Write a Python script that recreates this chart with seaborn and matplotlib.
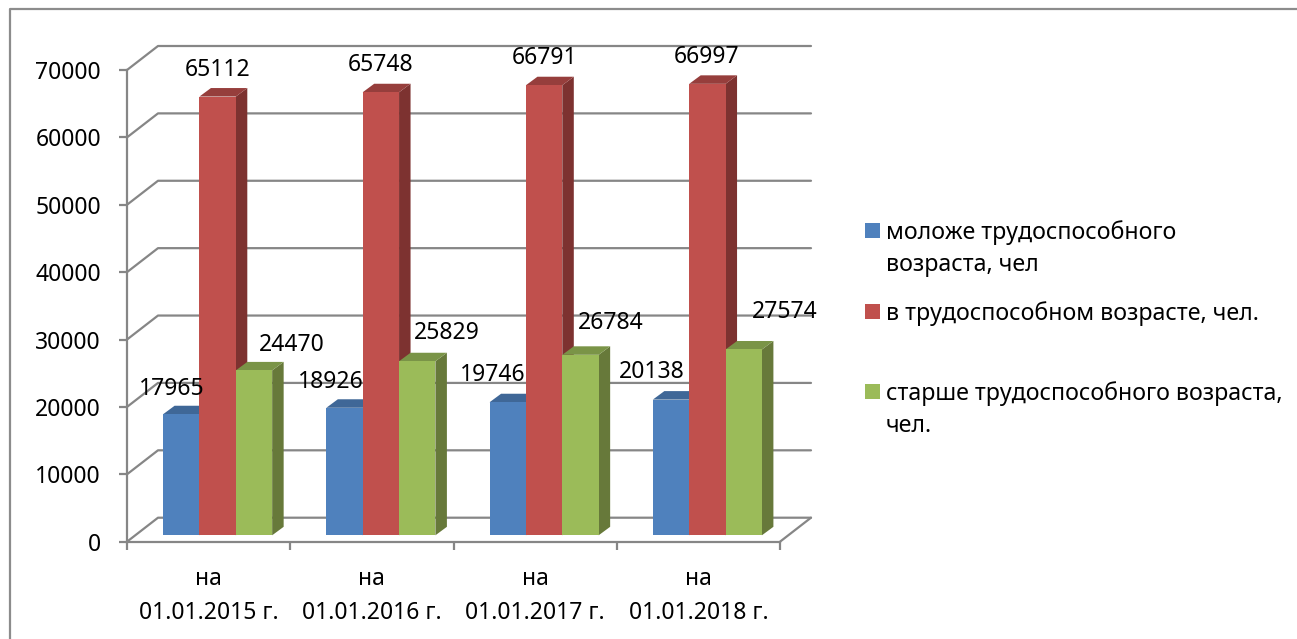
import numpy as np
import pandas as pd
import seaborn as sns
import matplotlib.pyplot as plt
from matplotlib.patches import Polygon, Rectangle
from matplotlib.lines import Line2D
from matplotlib.transforms import Affine2D, IdentityTransform

dates = ['на\n01.01.2015 г.', 'на\n01.01.2016 г.', 'на\n01.01.2017 г.', 'на\n01.01.2018 г.']
young = [17965, 18926, 19746, 20138]
working = [65112, 65748, 66791, 66997]
old = [24470, 25829, 26784, 27574]
y_ticks = [0, 10000, 20000, 30000, 40000, 50000, 60000, 70000]
legend_labels = ['моложе трудоспособного\nвозраста, чел',
                 'в трудоспособном возрасте, чел.',
                 'старше трудоспособного возраста,\nчел.']

colors = ['#4F81BD', '#C0504D', '#9BBB59']
side_colors = ['#3A5F8C', '#7D3230', '#67793A']
top_colors = ['#3F6797', '#963E3C', '#7A9447']
line_color = '#868686'

# hand placed data labels in excel, pixels from the bar top
label_dx = [[-10, -14, -15, -19], [0, 0, 0, -1], [38, 30, 30, 41]]
label_dy = [[25, 26, 27, 28], [27, 27, 27, 27], [25, 28, 32, 37]]

sns.set_style('white')
plt.rcParams['font.family'] = ['Noto Sans', 'DejaVu Sans']
W, H = 1297, 639
fig = plt.figure(figsize=(W / 100, H / 100), dpi=100)
ax = fig.add_axes([127 / W, (H - 541.7) / H, (780 - 127) / W, (541.7 - 70) / H])

data = pd.DataFrame({
    'date': dates * 3,
    'value': young + working + old,
    'group': sum([[g] * 4 for g in legend_labels], []),
})
sns.barplot(data=data, x='date', y='value', hue='group', palette=colors, saturation=1,
            width=0.668, gap=0, legend=False, ax=ax)
ax.set_xlim(-0.5, 3.5)
ax.set_ylim(0, 70000)
ax.set_xlabel('')
ax.set_ylabel('')

# fake 3d: wall depth and where the bars stand on the floor
wall_dx, wall_dy = 31, 24
bar_dx, bar_dy = 9, 6.4
depth_x, depth_y = 11.5, 8.5
lw = 1.6
to_px = ax.transData.transform

for t in y_ticks:
    x0, y0 = to_px((-0.5, t))
    x1, _ = to_px((3.5, t))
    ax.add_line(Line2D([x0, x0 + wall_dx, x1 + wall_dx], [y0, y0 + wall_dy, y0 + wall_dy],
                       transform=IdentityTransform(), color=line_color, lw=lw,
                       clip_on=False, zorder=1))
x0, y0 = to_px((3.5, 0))
ax.add_line(Line2D([x0, x0 + wall_dx], [y0, y0 + wall_dy], transform=IdentityTransform(),
                   color=line_color, lw=lw, clip_on=False, zorder=1))

shift = ax.transData + Affine2D().translate(bar_dx, bar_dy)
for s, cont in enumerate(ax.containers):
    for i, bar in enumerate(cont):
        bar.set_transform(shift)
        bar.set_linewidth(0)
        bar.set_zorder(3 + s * 2)
        bar.set_clip_on(False)
        xa, ya = to_px((bar.get_x(), 0))
        xb, yb = to_px((bar.get_x() + bar.get_width(), bar.get_height()))
        xa, xb = xa + bar_dx, xb + bar_dx
        ya, yb = ya + bar_dy, yb + bar_dy
        side = [(xb, ya), (xb + depth_x, ya + depth_y), (xb + depth_x, yb + depth_y), (xb, yb)]
        top = [(xa, yb), (xa + depth_x, yb + depth_y), (xb + depth_x, yb + depth_y), (xb, yb)]
        ax.add_patch(Polygon(side, transform=IdentityTransform(), color=side_colors[s], lw=0,
                             clip_on=False, zorder=2 + s * 2))
        ax.add_patch(Polygon(top, transform=IdentityTransform(), color=top_colors[s], lw=0,
                             clip_on=False, zorder=2 + s * 2))
        ax.annotate(str(int(bar.get_height())), (bar.get_x() + bar.get_width() / 2, bar.get_height()),
                    xytext=(bar_dx + label_dx[s][i], bar_dy + label_dy[s][i]),
                    textcoords='offset pixels', ha='center', va='center',
                    fontsize=16.5, color='black', zorder=20, annotation_clip=False)

for pos in ['right', 'top']:
    ax.spines[pos].set_visible(False)
for pos in ['left', 'bottom']:
    ax.spines[pos].set_color(line_color)
    ax.spines[pos].set_linewidth(lw)
    ax.spines[pos].set_zorder(1)

ax.set_yticks(y_ticks)
ax.set_yticklabels([str(t) for t in y_ticks], fontsize=16.5, color='black')
ax.set_xticks(np.arange(-0.5, 4, 1))
ax.set_xticklabels([])
ax.set_xticks(range(4), labels=dates, minor=True, fontsize=16.5, color='black', linespacing=1.55)
ax.tick_params(axis='both', which='major', length=5.8, width=lw, color=line_color, left=True, bottom=True)
ax.tick_params(axis='y', which='major', pad=13)
ax.tick_params(axis='x', which='minor', length=0, pad=18)

# legend by hand, excel spaces the entries evenly
for c, label, y in zip(colors, legend_labels, [230.5, 311.5, 391.5]):
    fig.add_artist(Rectangle((865 / W, (H - y - 7.5) / H), 15 / W, 15 / H, color=c, lw=0,
                             transform=fig.transFigure))
    fig.text(886 / W, (H - y + 10) / H, label, fontsize=16.7, color='black', va='top', linespacing=1.42)

# frame of the chart, cropped at right and bottom
fig.add_artist(Line2D([10 / W, 10 / W, 1], [0, (H - 9) / H, (H - 9) / H], color='#8C8C8C', lw=1.6,
                      transform=fig.transFigure))

plt.savefig('out.png', dpi=100)
